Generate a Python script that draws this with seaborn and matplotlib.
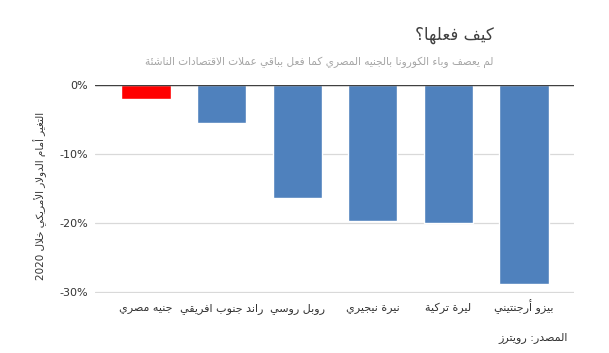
import re
import seaborn as sns
import matplotlib.pyplot as plt
import pandas as pd
from matplotlib.ticker import FuncFormatter

# Data
currencies = ['جنيه مصري', 'راند جنوب افريقي', 'روبل روسي',
              'نيرة نيجيري', 'ليرة تركية', 'بيزو أرجنتيني']
change_2020 = [-1.9, -5.4, -16.3, -19.6, -19.9, -28.8]
bar_colors = ['#ff0000', '#4f81bd', '#4f81bd', '#4f81bd', '#4f81bd', '#4f81bd']

title = 'كيف فعلها؟'
subtitle = 'لم يعصف وباء الكورونا بالجنيه المصري كما فعل بباقي عملات الاقتصادات الناشئة'
ylabel = 'التغير أمام الدولار الأمريكي خلال 2020'
source = 'المصدر: رويترز'

# matplotlib has no Arabic shaping, so pick the presentation forms by hand
DUAL = {'ئ': 0xFE89, 'ب': 0xFE8F, 'ت': 0xFE95, 'ث': 0xFE99, 'ج': 0xFE9D,
        'ح': 0xFEA1, 'خ': 0xFEA5, 'س': 0xFEB1, 'ش': 0xFEB5, 'ص': 0xFEB9,
        'ض': 0xFEBD, 'ط': 0xFEC1, 'ظ': 0xFEC5, 'ع': 0xFEC9, 'غ': 0xFECD,
        'ف': 0xFED1, 'ق': 0xFED5, 'ك': 0xFED9, 'ل': 0xFEDD, 'م': 0xFEE1,
        'ن': 0xFEE5, 'ه': 0xFEE9, 'ي': 0xFEF1}
RIGHT = {'آ': 0xFE81, 'أ': 0xFE83, 'ؤ': 0xFE85, 'إ': 0xFE87, 'ا': 0xFE8D,
         'ة': 0xFE93, 'د': 0xFEA9, 'ذ': 0xFEAB, 'ر': 0xFEAD, 'ز': 0xFEAF,
         'و': 0xFEED, 'ى': 0xFEEF}
LAMALEF = {'آ': 0xFEF5, 'أ': 0xFEF7, 'إ': 0xFEF9, 'ا': 0xFEFB}


def kind(t):
    if isinstance(t, tuple) or t in RIGHT:
        return 'R'
    if t in DUAL:
        return 'D'
    if t == 'ء':
        return 'U'
    return None


def shape(text):
    toks = []
    i = 0
    while i < len(text):
        c = text[i]
        if c == 'ل' and i + 1 < len(text) and text[i + 1] in LAMALEF:
            toks.append(('LA', text[i + 1]))
            i += 2
        else:
            toks.append(c)
            i += 1
    out = []
    for j, t in enumerate(toks):
        k = kind(t)
        if k is None:
            out.append(t)
            continue
        prev_k = kind(toks[j - 1]) if j > 0 else None
        next_k = kind(toks[j + 1]) if j + 1 < len(toks) else None
        jp = prev_k == 'D' and k in ('D', 'R')
        jn = k == 'D' and next_k in ('D', 'R')
        if isinstance(t, tuple):
            base = LAMALEF[t[1]]
        elif k == 'U':
            out.append('\uFE80')
            continue
        else:
            base = DUAL.get(t, RIGHT.get(t))
        off = 3 if (jp and jn) else 1 if jp else 2 if jn else 0
        out.append(chr(base + off))
    s = ''.join(out)
    # visual order: reverse, but keep digit runs as they are
    parts = re.findall(r'[0-9]+|[^0-9]', s)
    return ''.join(reversed(parts))


sns.set_theme(style='white')
plt.rcParams['font.family'] = ['DejaVu Sans']

df = pd.DataFrame({'currency': currencies, 'change': change_2020})

fig = plt.figure(figsize=(6.09, 3.53), dpi=100)
ax = fig.add_axes([0.156, 0.169, 0.787, 0.589])

sns.barplot(data=df, x='currency', y='change', hue='currency',
            palette=dict(zip(currencies, bar_colors)), saturation=1,
            width=0.65, legend=False, ax=ax, zorder=3)

ax.set_ylim(-30.15, 0)
ax.set_xlim(-0.675, 5.665)
ax.set_yticks([0, -10, -20, -30])
ax.yaxis.set_major_formatter(FuncFormatter(lambda v, p: f'{v:.0f}%'))
ax.grid(axis='y', color='#d9d9d9', linewidth=0.9, zorder=0)
ax.axhline(0, color='#404040', linewidth=1.0, zorder=4)
for s in ax.spines.values():
    s.set_visible(False)
ax.tick_params(axis='both', length=0, labelsize=8, colors='#333333')
ax.tick_params(axis='y', pad=5)
ax.tick_params(axis='x', pad=13)
ax.set_xticks(range(len(currencies)))
ax.set_xticklabels([shape(c) for c in currencies])
for lbl in ax.get_xticklabels():
    lbl.set_verticalalignment('baseline')
ax.set_xlabel('')
ax.set_ylabel(shape(ylabel), fontsize=7.5, color='#333333')
ax.yaxis.set_label_coords(-0.10, 0.47)

fig.text(0.81, 0.90, shape(title), ha='right', va='center',
         fontsize=12, color='#404040')
fig.text(0.81, 0.823, shape(subtitle), ha='right', va='center',
         fontsize=7.6, color='#a6a6a6')
fig.text(0.933, 0.045, shape(source), ha='right', va='center',
         fontsize=8, color='#333333')

fig.savefig('out.png', dpi=100)
